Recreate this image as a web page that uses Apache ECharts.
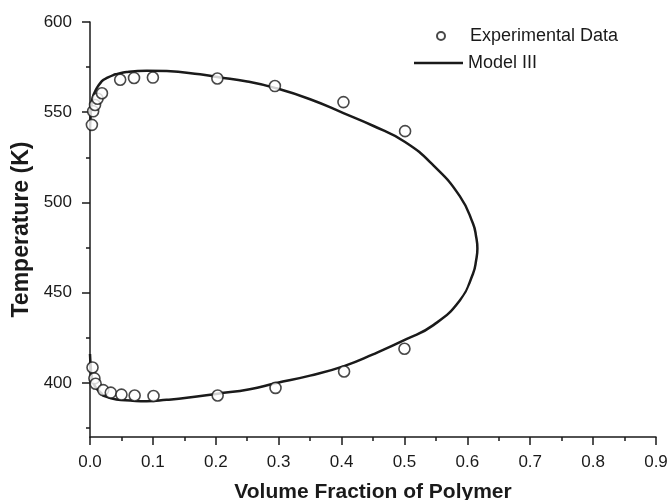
<!DOCTYPE html>
<html>
<head>
<meta charset="utf-8">
<script src="https://cdn.jsdelivr.net/npm/echarts@6/dist/echarts.min.js"></script>
<style>
  html, body { margin: 0; padding: 0; background: #fff; }
  #chart { width: 670px; height: 500px; }
</style>
</head>
<body>
<div id="chart"></div>
<script>
// experimental points [volume fraction, T (K)]
var expUpper = [
  [0.003, 543], [0.005, 550.5], [0.008, 554], [0.012, 557.5], [0.019, 560.5],
  [0.048, 568], [0.070, 569], [0.100, 569.2], [0.2025, 568.7], [0.294, 564.5],
  [0.403, 555.6], [0.501, 539.5]
];
var expLower = [
  [0.004, 408.5], [0.007, 402.5], [0.009, 399.5], [0.021, 396], [0.033, 394.6],
  [0.050, 393.5], [0.071, 393], [0.101, 392.7], [0.203, 393], [0.295, 397.2],
  [0.404, 406.3], [0.500, 418.9]
];
// Model III curve, traced from upper-left round the nose back to lower-left
var modelCurve = [
  [0, 540], [0.001, 548], [0.0027, 555], [0.005, 559], [0.008, 561.5], [0.011, 563.5],
  [0.016, 566], [0.021, 567.8], [0.027, 569], [0.037, 570.6], [0.042, 571.1],
  [0.058, 572.3], [0.09, 573], [0.122, 572.8], [0.175, 571], [0.2025, 569.5],
  [0.25, 567], [0.294, 563.5], [0.35, 557.2], [0.403, 549.5], [0.45, 542.5],
  [0.501, 533.5], [0.546, 520.5], [0.588, 503.5], [0.609, 488.3], [0.614, 481],
  [0.616, 474.5], [0.614, 468], [0.609, 460.5], [0.588, 445.7], [0.546, 432],
  [0.503, 424.2], [0.45, 415.8], [0.404, 409.3], [0.35, 404], [0.295, 399.8],
  [0.254, 396.5], [0.203, 394], [0.154, 391.7], [0.122, 390.6], [0.09, 389.8],
  [0.064, 390.2], [0.042, 390.8], [0.021, 393], [0.0186, 394], [0.008, 398],
  [0.0027, 404], [0.001, 410], [0, 416]
];
var yLabels = [400, 450, 500, 550, 600];
var yMinorTicks = [375, 425, 475, 525, 575];

var ink = "#1a1a1a";
var chart = echarts.init(document.getElementById("chart"));
chart.setOption({
  animation: false,
  textStyle: { fontFamily: "Liberation Sans, Arial, sans-serif" },
  grid: { left: 90, right: 14, top: 22, bottom: 63, containLabel: false, outerBoundsMode: "none" },
  legend: [
    {
      data: ["Experimental Data"],
      orient: "vertical",
      left: 431,
      top: 22,
      itemWidth: 48,
      itemHeight: 8,
      textStyle: { fontSize: 18, color: ink }
    },
    {
      data: [{ name: "Model III", icon: "rect" }],
      orient: "vertical",
      left: 409,
      top: 49,
      itemWidth: 49,
      itemHeight: 2.5,
      textStyle: { fontSize: 18, color: ink }
    }
  ],
  xAxis: {
    type: "value",
    min: 0,
    max: 0.9,
    interval: 0.1,
    name: "Volume Fraction of Polymer",
    nameLocation: "middle",
    nameGap: 45,
    nameTextStyle: { fontSize: 21, fontWeight: "bold", color: ink },
    axisLine: { show: true, lineStyle: { color: ink, width: 1.5 } },
    axisTick: { show: true, length: 8, lineStyle: { color: ink, width: 1.5 } },
    minorTick: { show: true, splitNumber: 2, length: 4, lineStyle: { color: ink, width: 1.5 } },
    axisLabel: {
      fontSize: 17,
      color: ink,
      margin: 17,
      formatter: function (v) { return v.toFixed(1); }
    },
    splitLine: { show: false }
  },
  yAxis: [
    {
      type: "value",
      min: 370,
      max: 600,
      name: "Temperature (K)",
      nameLocation: "middle",
      nameGap: 57,
      nameTextStyle: { fontSize: 23, fontWeight: "bold", color: ink },
      axisLine: { show: true, lineStyle: { color: ink, width: 1.5 } },
      axisTick: { show: true, length: 8, customValues: yLabels, lineStyle: { color: ink, width: 1.5 } },
      axisLabel: { fontSize: 17, color: ink, margin: 18, customValues: yLabels },
      splitLine: { show: false }
    },
    {
      type: "value",
      min: 370,
      max: 600,
      position: "left",
      axisLine: { show: false },
      axisTick: { show: true, length: 4, customValues: yMinorTicks, lineStyle: { color: ink, width: 1.5 } },
      axisLabel: { show: false },
      splitLine: { show: false }
    }
  ],
  series: [
    {
      name: "Experimental Data",
      type: "scatter",
      data: expUpper.concat(expLower),
      symbol: "circle",
      symbolSize: 11,
      itemStyle: { color: "#fff", borderColor: ink, borderWidth: 1.6 },
      z: 3
    },
    {
      name: "Model III",
      type: "line",
      data: modelCurve,
      symbol: "none",
      smooth: 0.5,
      lineStyle: { color: ink, width: 2.5 },
      itemStyle: { color: ink },
      z: 2
    }
  ]
});
</script>
</body>
</html>
